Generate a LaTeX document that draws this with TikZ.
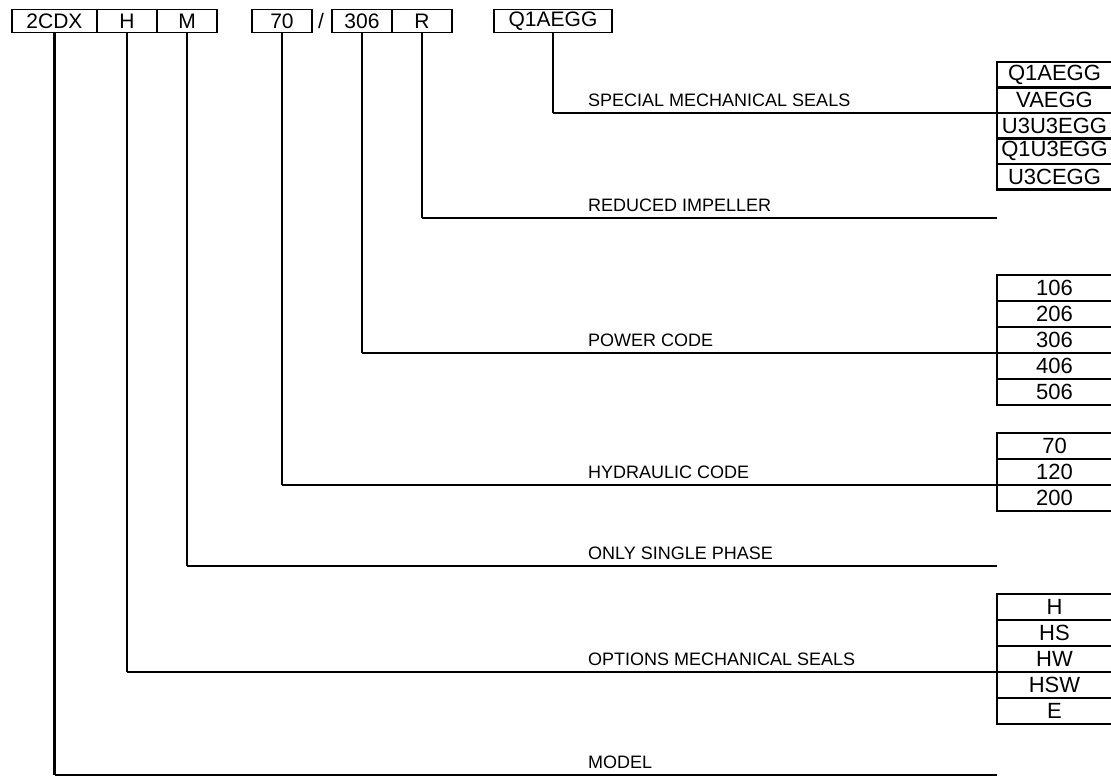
\documentclass[tikz,border=0pt]{standalone}
\usepackage{fontspec}
\setmainfont{Liberation Sans}
\begin{document}
\begin{tikzpicture}[x=1pt,y=-1pt,
  txt/.style={font=\fontsize{18}{18}\selectfont},
  topbox/.style={draw, line width=1.8pt, minimum height=23pt, inner sep=0pt, outer sep=0pt, font=\fontsize{21}{21}\selectfont},
  stackbox/.style={draw, line width=2.5pt, minimum width=115pt, inner sep=0pt, outer sep=0pt, anchor=north west, font=\fontsize{22}{22}\selectfont},
  rowS/.style={stackbox, minimum height=25.5pt},
  rowB/.style={stackbox, minimum height=26pt},
  lbl/.style={anchor=base west, inner sep=0pt, txt},
  vline/.style={line width=2.4pt},
  hline/.style={line width=1.3pt}]
\useasboundingbox (0,0) rectangle (1111,780);
% top code boxes
\node[topbox, minimum width=85pt] (b2cdx) at (54.5,21) {2CDX};
\node[topbox, minimum width=60pt] (bH) at (127,21) {H};
\node[topbox, minimum width=60pt] (bM) at (187,21) {M};
\node[topbox, minimum width=60pt] (b70) at (282,21) {70};
\node[font=\fontsize{21}{21}\selectfont, inner sep=0pt] (slash) at (321,21) {/};
\node[topbox, minimum width=60pt] (b306) at (362,21) {306};
\node[topbox, minimum width=60pt] (bR) at (422,21) {R};
\node[topbox, minimum width=118pt] (bQ) at (553,21) {Q1AEGG};
% stacks
\node[rowS] (sS1) at (997,62) {Q1AEGG};
\node[rowS] (sS2) at (997,87.5) {VAEGG};
\node[rowS] (sS3) at (997,113) {U3U3EGG};
\node[rowS] (sS4) at (997,138.5) {Q1U3EGG};
\node[rowS] (sS5) at (997,164) {U3CEGG};
\node[rowB] (sP1) at (997,275) {106};
\node[rowB] (sP2) at (997,301) {206};
\node[rowB] (sP3) at (997,327) {306};
\node[rowB] (sP4) at (997,353) {406};
\node[rowB] (sP5) at (997,379) {506};
\node[rowB] (sH1) at (997,433) {70};
\node[rowB] (sH2) at (997,459) {120};
\node[rowB] (sH3) at (997,485) {200};
\node[rowB] (sO1) at (997,594) {H};
\node[rowB] (sO2) at (997,620) {HS};
\node[rowB] (sO3) at (997,646) {HW};
\node[rowB] (sO4) at (997,672) {HSW};
\node[rowB] (sO5) at (997,698) {E};
% free ends
\coordinate (eR) at (997,218);
\coordinate (eM) at (997,566);
\coordinate (e2cdx) at (997,775);
% corners
\coordinate (kQ) at (bQ.south |- sS2.south west);
\coordinate (kR) at (bR.south |- eR);
\coordinate (k306) at (b306.south |- sP3.south west);
\coordinate (k70) at (b70.south |- sH2.south west);
\coordinate (kM) at (bM.south |- eM);
\coordinate (kH) at (bH.south |- sO3.south west);
\coordinate (k2cdx) at (b2cdx.south |- e2cdx);
% connectors
\draw[vline] (bQ.south) -- (kQ);     \draw[hline] (kQ) -- (sS2.south west);
\draw[vline] (bR.south) -- (kR);     \draw[hline] (kR) -- (eR);
\draw[vline] (b306.south) -- (k306); \draw[hline] (k306) -- (sP3.south west);
\draw[vline] (b70.south) -- (k70);   \draw[hline] (k70) -- (sH2.south west);
\draw[vline] (bM.south) -- (kM);     \draw[hline] (kM) -- (eM);
\draw[vline] (bH.south) -- (kH);     \draw[hline] (kH) -- (sO3.south west);
\draw[vline] (b2cdx.south) -- (k2cdx); \draw[hline] (k2cdx) -- (e2cdx);
% labels
\node[lbl] (lS) at (588,106) {SPECIAL MECHANICAL SEALS};
\node[lbl] (lR) at (588,211) {REDUCED IMPELLER};
\node[lbl] (lP) at (588,346) {POWER CODE};
\node[lbl] (lH) at (588,478) {HYDRAULIC CODE};
\node[lbl] (lM) at (588,559) {ONLY SINGLE PHASE};
\node[lbl] (lO) at (588,665) {OPTIONS MECHANICAL SEALS};
\node[lbl] (lMo) at (588,768) {MODEL};
\end{tikzpicture}
\end{document}
